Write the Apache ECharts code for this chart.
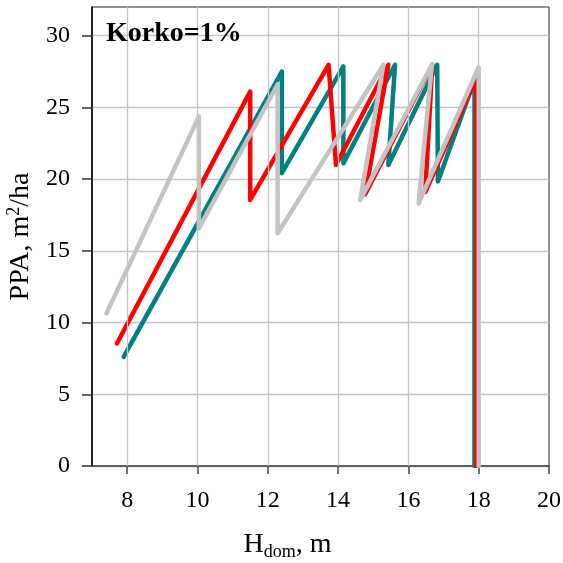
<!DOCTYPE html>
<html>
<head>
<meta charset="utf-8">
<script src="https://cdn.jsdelivr.net/npm/echarts@6/dist/echarts.min.js"></script>
<style>
html,body{margin:0;padding:0;background:#fff;}
#chart{width:563px;height:563px;}
</style>
</head>
<body>
<div id="chart"></div>
<script>
// ---- data ----
var xTicks = [8, 10, 12, 14, 16, 18, 20];
var yTicks = [0, 5, 10, 15, 20, 25, 30];

var tealX = [7.90, 12.40, 12.40, 14.15, 14.15, 15.62, 15.43, 16.82, 16.84, 17.88, 17.88];
var tealY = [7.61, 27.50, 20.41, 27.86, 21.10, 27.97, 20.99, 27.97, 19.83, 26.90, 0];

var redX = [7.71, 11.50, 11.50, 13.73, 13.94, 15.43, 14.77, 16.68, 16.48, 17.93, 17.93];
var redY = [8.54, 26.10, 18.55, 27.97, 20.99, 27.97, 18.95, 27.97, 19.10, 27.05, 0];

var grayX = [7.41, 10.04, 10.04, 12.28, 12.28, 15.29, 14.63, 16.67, 16.29, 18.00, 18.00];
var grayY = [10.64, 24.36, 16.57, 26.60, 16.22, 27.97, 18.55, 27.97, 18.30, 27.80, 0];

var panelLabel = 'Korko=1%';

function pairs(xs, ys) {
  var out = [];
  for (var i = 0; i < xs.length; i++) out.push([xs[i], ys[i]]);
  return out;
}

var serif = '"Liberation Serif", "Times New Roman", "DejaVu Serif", serif';
var chart = echarts.init(document.getElementById('chart'), null, {renderer: 'canvas'});

function lineSeries(name, xs, ys, color, z) {
  return {
    name: name,
    type: 'line',
    data: pairs(xs, ys),
    showSymbol: false,
    symbol: 'none',
    z: z,
    animation: false,
    lineStyle: {color: color, width: 4.5, cap: 'round', join: 'round'}
  };
}

var gridColor = '#c4c4c4';

chart.setOption({
  backgroundColor: '#fff',
  animation: false,
  grid: {
    left: 92, right: 14, top: 7, bottom: 97,
    containLabel: false,
    outerBoundsMode: 'none',
    show: true, borderColor: '#222', borderWidth: 1
  },
  xAxis: {
    type: 'value', min: 7, max: 20, interval: 1,
    name: 'H{sub|dom}, m',
    nameLocation: 'middle',
    nameGap: 62,
    nameTextStyle: {
      fontFamily: serif, fontSize: 28, color: '#000',
      padding: [0, 66, 0, 0],
      rich: {sub: {fontFamily: serif, fontSize: 18, color: '#000', verticalAlign: 'bottom', padding: [15, 0, 0, 0]}}
    },
    axisLine: {show: true, lineStyle: {color: '#444', width: 1.5}},
    axisTick: {show: true, length: 8, customValues: xTicks, lineStyle: {color: '#444', width: 1.5}},
    axisLabel: {customValues: xTicks, margin: 23, fontFamily: serif, fontSize: 24, color: '#000'},
    splitLine: {show: false}
  },
  yAxis: {
    type: 'value', min: 0, max: 32, interval: 5,
    name: 'PPA, m{sup|2}/ha',
    nameLocation: 'middle',
    nameGap: 54,
    nameTextStyle: {
      fontFamily: serif, fontSize: 28, color: '#000',
      rich: {sup: {fontFamily: serif, fontSize: 18, color: '#000', verticalAlign: 'top', padding: [0, 0, 14, 0]}}
    },
    axisLine: {show: true, lineStyle: {color: '#000', width: 1.5}},
    axisTick: {show: true, length: 10, customValues: yTicks, lineStyle: {color: '#333', width: 1.5}},
    axisLabel: {customValues: yTicks, margin: 22, fontFamily: serif, fontSize: 24, color: '#000'},
    splitLine: {show: true, lineStyle: {color: gridColor, width: 1.3}}
  },
  graphic: [{
    type: 'text', left: 106, top: 20, z: 100,
    style: {text: panelLabel, font: 'bold 28px ' + serif, fill: '#000'}
  }],
  series: [
    {
      name: 'vgrid', type: 'line', data: [], z: 1, silent: true,
      markLine: {
        silent: true, symbol: ['none', 'none'], animation: false,
        label: {show: false},
        lineStyle: {color: gridColor, width: 1.3, type: 'solid'},
        data: xTicks.slice(0, -1).map(function (v) { return {xAxis: v}; })
      }
    },
    lineSeries('teal', tealX, tealY, '#008080', 2),
    lineSeries('red', redX, redY, '#ff0000', 3),
    lineSeries('gray', grayX, grayY, '#c3c3c3', 4)
  ]
});
</script>
</body>
</html>
